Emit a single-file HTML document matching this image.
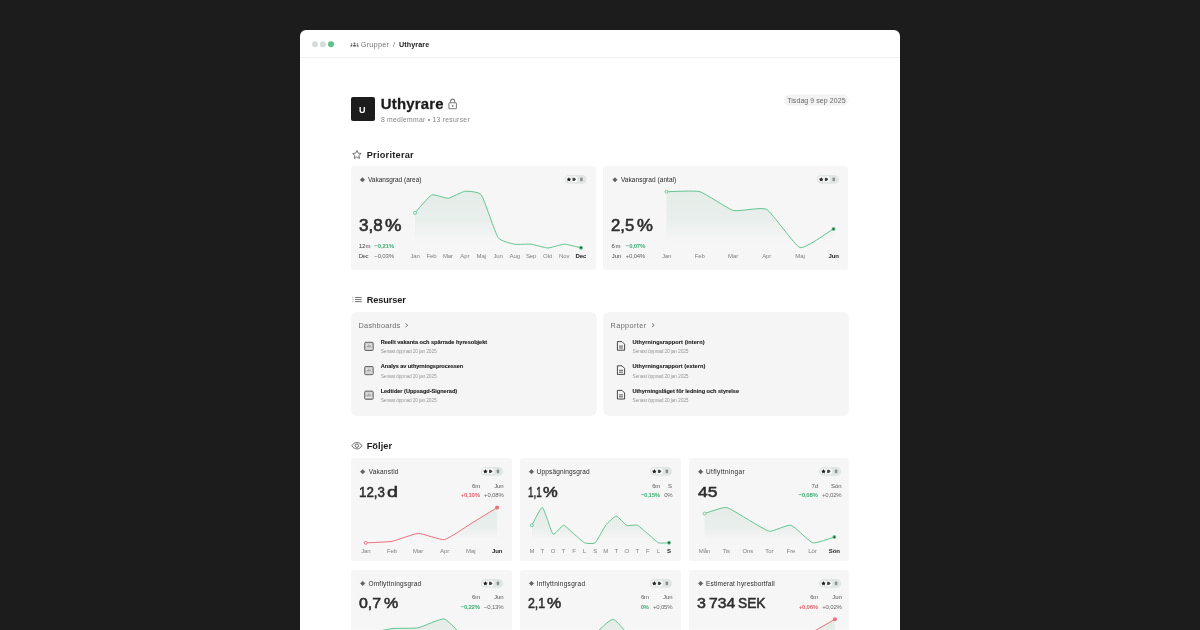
<!DOCTYPE html>
<html lang="sv"><head><meta charset="utf-8"><title>Uthyrare</title>
<style>
html,body{margin:0;padding:0}
body{width:1200px;height:630px;overflow:hidden;background:#1c1c1c;position:relative;font-family:"Liberation Sans",sans-serif}
.win{position:absolute;left:300px;top:29.5px;width:600px;height:640px;background:#fff;border-radius:6px 6px 0 0}
.bar{position:absolute;left:300px;top:57px;width:600px;height:1px;background:#efefef}
.card{position:absolute;border-radius:3px;background-color:#f7f7f7;background-image:radial-gradient(circle at 0.5px 0.5px,#f3f3f3 0.45px,rgba(243,243,243,0) 0.9px);background-size:2px 2px}
.rcard{position:absolute;border-radius:6.5px;background:#f5f5f5}
.txt{position:absolute;left:0;top:0;width:1200px;height:630px;will-change:transform}
.t{position:absolute;white-space:nowrap;line-height:1;transform-origin:0 0}
svg.ov{position:absolute;left:0;top:0}
</style></head><body>
<div class="win"></div><div class="bar"></div>
<div class="card" style="left:351.3px;top:166.3px;width:244.4px;height:103.4px"></div>
<div class="card" style="left:603.3px;top:166.3px;width:244.8px;height:103.4px"></div>
<div class="rcard" style="left:351.2px;top:312.1px;width:245.8px;height:103.9px"></div>
<div class="rcard" style="left:603.0px;top:312.1px;width:246.0px;height:103.9px"></div>
<div class="card" style="left:351.2px;top:458.1px;width:160.6px;height:103.1px"></div>
<div class="card" style="left:520.0px;top:458.1px;width:160.6px;height:103.1px"></div>
<div class="card" style="left:689.3px;top:458.1px;width:159.5px;height:103.1px"></div>
<div class="card" style="left:351.2px;top:570.1px;width:160.6px;height:103.1px"></div>
<div class="card" style="left:520.0px;top:570.1px;width:160.6px;height:103.1px"></div>
<div class="card" style="left:689.3px;top:570.1px;width:159.5px;height:103.1px"></div>
<svg class="ov" width="1200" height="630" viewBox="0 0 1200 630">
<circle cx="315" cy="44.3" r="3" fill="#d6dcd9"/><circle cx="322.9" cy="44.3" r="3" fill="#d6dcd9"/><circle cx="331" cy="44.3" r="3" fill="#5cc389"/>
<g fill="#5a5a5a"><circle cx="354.5" cy="43.35" r="0.95"/><path d="M352.9 46.5 q0 -2.1 1.6 -2.1 q1.6 0 1.6 2.1 z"/><circle cx="351.6" cy="44.0" r="0.7"/><path d="M350.1 46.5 q0 -1.6 1.5 -1.6 q0.5 0 0.9 0.3 q-0.4 0.6 -0.4 1.3 z"/><circle cx="357.4" cy="44.0" r="0.7"/><path d="M358.9 46.5 q0 -1.6 -1.5 -1.6 q-0.5 0 -0.9 0.3 q0.4 0.6 0.4 1.3 z"/></g>
<rect x="351" y="97" width="24" height="24" rx="2" fill="#1c1c1c"/>
<g fill="none" stroke="#7c7c7c" stroke-width="1.05"><rect x="448.9" y="102.8" width="7.5" height="6" rx="1"/><path d="M450.6 102.8 v-1.6 a2.05 2.05 0 0 1 4.1 0 v1.6"/></g><circle cx="452.65" cy="105.9" r="0.9" fill="#7c7c7c"/>
<rect x="784" y="94.4" width="64.8" height="11.3" rx="5.65" fill="#f3f3f3"/>
<polygon points="356.90,150.45 358.14,153.14 361.08,153.49 358.91,155.50 359.49,158.41 356.90,156.96 354.31,158.41 354.89,155.50 352.72,153.49 355.66,153.14" fill="none" stroke="#4a4a4a" stroke-width="0.75" stroke-linejoin="round"/>
<g stroke-width="0.75"><path d="M355 297.45 H361.7 M355 299.55 H361.7 M355 301.65 H361.7" stroke="#444"/><path d="M352.1 297.45 H353.8 M352.1 299.55 H353.8 M352.1 301.65 H353.8" stroke="#aaa"/></g>
<g fill="none" stroke="#444" stroke-width="0.75"><path d="M351.9 445.7 C353.0 443.5 355.0 442.5 356.9 442.5 C358.8 442.5 360.8 443.5 361.9 445.7 C360.8 447.9 358.8 448.9 356.9 448.9 C355.0 448.9 353.0 447.9 351.9 445.7 Z"/><circle cx="356.9" cy="445.7" r="1.75"/></g>
<linearGradient id="g1" gradientUnits="userSpaceOnUse" x1="0" y1="191.3" x2="0" y2="248.0"><stop offset="0" stop-color="#5aa07d" stop-opacity="0.11"/><stop offset="0.5" stop-color="#5aa07d" stop-opacity="0.088"/><stop offset="0.88" stop-color="#5aa07d" stop-opacity="0"/></linearGradient><path d="M415.00 212.80 C417.49 210.13 429.11 196.09 431.60 195.00 C434.09 193.91 445.71 198.58 448.20 198.30 C450.69 198.02 462.31 191.55 464.80 191.30 C467.29 191.05 478.91 191.53 481.40 195.00 C483.89 198.47 495.51 233.81 498.00 237.50 C500.49 241.19 512.11 243.70 514.60 244.20 C517.09 244.70 528.71 243.91 531.20 244.20 C533.69 244.48 545.31 248.00 547.80 248.00 C550.29 248.00 561.91 244.21 564.40 244.20 C566.89 244.19 578.51 247.26 581.00 247.80 L581.00 248.00 L415.00 248.00 Z" fill="url(#g1)"/><path d="M415.00 212.80 C417.49 210.13 429.11 196.09 431.60 195.00 C434.09 193.91 445.71 198.58 448.20 198.30 C450.69 198.02 462.31 191.55 464.80 191.30 C467.29 191.05 478.91 191.53 481.40 195.00 C483.89 198.47 495.51 233.81 498.00 237.50 C500.49 241.19 512.11 243.70 514.60 244.20 C517.09 244.70 528.71 243.91 531.20 244.20 C533.69 244.48 545.31 248.00 547.80 248.00 C550.29 248.00 561.91 244.21 564.40 244.20 C566.89 244.19 578.51 247.26 581.00 247.80" fill="none" stroke="#62c58e" stroke-width="1" stroke-linejoin="round" stroke-linecap="round"/><circle cx="415.00" cy="212.80" r="1.5" fill="#fff" stroke="#62c58e" stroke-width="0.9"/><circle cx="581.00" cy="247.80" r="2" fill="#62c58e"/><circle cx="581.00" cy="247.80" r="0.95" fill="#2b3a33"/>
<linearGradient id="g2" gradientUnits="userSpaceOnUse" x1="0" y1="191.7" x2="0" y2="248.0"><stop offset="0" stop-color="#5aa07d" stop-opacity="0.11"/><stop offset="0.5" stop-color="#5aa07d" stop-opacity="0.088"/><stop offset="0.88" stop-color="#5aa07d" stop-opacity="0"/></linearGradient><path d="M666.50 191.70 C671.51 191.70 694.89 190.29 699.90 191.70 C704.91 193.11 728.29 209.17 733.30 210.50 C738.31 211.83 761.69 206.62 766.70 209.40 C771.71 212.18 795.09 246.14 800.10 247.60 C805.11 249.06 828.49 231.71 833.50 228.90 L833.50 248.00 L666.50 248.00 Z" fill="url(#g2)"/><path d="M666.50 191.70 C671.51 191.70 694.89 190.29 699.90 191.70 C704.91 193.11 728.29 209.17 733.30 210.50 C738.31 211.83 761.69 206.62 766.70 209.40 C771.71 212.18 795.09 246.14 800.10 247.60 C805.11 249.06 828.49 231.71 833.50 228.90" fill="none" stroke="#62c58e" stroke-width="1" stroke-linejoin="round" stroke-linecap="round"/><circle cx="666.50" cy="191.70" r="1.5" fill="#fff" stroke="#62c58e" stroke-width="0.9"/><circle cx="833.50" cy="228.90" r="2" fill="#62c58e"/><circle cx="833.50" cy="228.90" r="0.95" fill="#2b3a33"/>
<rect x="564.40" y="174.95" width="22.2" height="8.8" rx="4.4" fill="#e0e6e3"/>
<circle cx="568.90" cy="179.35" r="3" fill="#fff"/><circle cx="574.30" cy="179.35" r="3" fill="#fff"/>
<polygon points="568.90,177.00 569.63,178.49 571.28,178.73 570.09,179.89 570.37,181.52 568.90,180.75 567.43,181.52 567.71,179.89 566.52,178.73 568.17,178.49" fill="#222"/>
<path d="M572.50 177.75 h2.0 l1.6 1.6 l-1.6 1.6 h-2.0 z" fill="#444"/>
<rect x="580.20" y="177.45" width="2.5" height="3.8" rx="0.8" fill="#8d8d8d"/>
<rect x="816.70" y="174.95" width="22.2" height="8.8" rx="4.4" fill="#e0e6e3"/>
<circle cx="821.20" cy="179.35" r="3" fill="#fff"/><circle cx="826.60" cy="179.35" r="3" fill="#fff"/>
<polygon points="821.20,177.00 821.93,178.49 823.58,178.73 822.39,179.89 822.67,181.52 821.20,180.75 819.73,181.52 820.01,179.89 818.82,178.73 820.47,178.49" fill="#222"/>
<path d="M824.80 177.75 h2.0 l1.6 1.6 l-1.6 1.6 h-2.0 z" fill="#444"/>
<rect x="832.50" y="177.45" width="2.5" height="3.8" rx="0.8" fill="#8d8d8d"/>
<path d="M362.45 177.60 L364.70 179.85 L362.45 182.10 L360.20 179.85 Z" fill="#606060" stroke="#606060" stroke-width="0.5" stroke-linejoin="round"/>
<path d="M614.95 177.60 L617.20 179.85 L614.95 182.10 L612.70 179.85 Z" fill="#606060" stroke="#606060" stroke-width="0.5" stroke-linejoin="round"/>
<linearGradient id="g3" gradientUnits="userSpaceOnUse" x1="0" y1="507.6" x2="0" y2="544.0"><stop offset="0" stop-color="#5aa07d" stop-opacity="0.11"/><stop offset="0.5" stop-color="#5aa07d" stop-opacity="0.088"/><stop offset="0.88" stop-color="#5aa07d" stop-opacity="0"/></linearGradient><path d="M365.80 542.90 C369.74 542.66 388.12 542.01 392.06 541.30 C396.00 540.59 414.38 533.53 418.32 533.40 C422.26 533.27 440.64 540.33 444.58 539.60 C448.52 538.87 466.90 526.10 470.84 523.70 C474.78 521.30 493.16 510.02 497.10 507.60 L497.10 544.00 L365.80 544.00 Z" fill="url(#g3)"/><path d="M365.80 542.90 C369.74 542.66 388.12 542.01 392.06 541.30 C396.00 540.59 414.38 533.53 418.32 533.40 C422.26 533.27 440.64 540.33 444.58 539.60 C448.52 538.87 466.90 526.10 470.84 523.70 C474.78 521.30 493.16 510.02 497.10 507.60" fill="none" stroke="#e8707a" stroke-width="1" stroke-linejoin="round" stroke-linecap="round"/><circle cx="365.80" cy="542.90" r="1.5" fill="#fff" stroke="#e8707a" stroke-width="0.9"/><circle cx="497.10" cy="507.60" r="2" fill="#e8707a"/>
<linearGradient id="g4" gradientUnits="userSpaceOnUse" x1="0" y1="507.4" x2="0" y2="545.0"><stop offset="0" stop-color="#5aa07d" stop-opacity="0.11"/><stop offset="0.5" stop-color="#5aa07d" stop-opacity="0.088"/><stop offset="0.88" stop-color="#5aa07d" stop-opacity="0"/></linearGradient><path d="M531.90 525.20 C533.48 522.53 540.86 506.73 542.45 507.40 C544.03 508.07 551.41 532.76 552.99 534.10 C554.57 535.44 561.96 525.20 563.54 525.20 C565.12 525.20 572.50 532.78 574.08 534.10 C575.67 535.42 583.05 542.15 584.63 542.80 C586.21 543.45 593.59 544.12 595.18 542.80 C596.76 541.48 604.14 527.20 605.72 525.20 C607.30 523.20 614.69 516.09 616.27 516.10 C617.85 516.12 625.23 524.72 626.81 525.40 C628.40 526.08 635.78 524.56 637.36 525.20 C638.94 525.84 646.32 532.58 647.91 533.90 C649.49 535.22 656.87 542.13 658.45 542.80 C660.03 543.47 667.42 542.80 669.00 542.80 L669.00 545.00 L531.90 545.00 Z" fill="url(#g4)"/><path d="M531.90 525.20 C533.48 522.53 540.86 506.73 542.45 507.40 C544.03 508.07 551.41 532.76 552.99 534.10 C554.57 535.44 561.96 525.20 563.54 525.20 C565.12 525.20 572.50 532.78 574.08 534.10 C575.67 535.42 583.05 542.15 584.63 542.80 C586.21 543.45 593.59 544.12 595.18 542.80 C596.76 541.48 604.14 527.20 605.72 525.20 C607.30 523.20 614.69 516.09 616.27 516.10 C617.85 516.12 625.23 524.72 626.81 525.40 C628.40 526.08 635.78 524.56 637.36 525.20 C638.94 525.84 646.32 532.58 647.91 533.90 C649.49 535.22 656.87 542.13 658.45 542.80 C660.03 543.47 667.42 542.80 669.00 542.80" fill="none" stroke="#62c58e" stroke-width="1" stroke-linejoin="round" stroke-linecap="round"/><circle cx="531.90" cy="525.20" r="1.5" fill="#fff" stroke="#62c58e" stroke-width="0.9"/><circle cx="669.00" cy="542.80" r="2" fill="#62c58e"/><circle cx="669.00" cy="542.80" r="0.95" fill="#2b3a33"/>
<linearGradient id="g5" gradientUnits="userSpaceOnUse" x1="0" y1="507.4" x2="0" y2="545.0"><stop offset="0" stop-color="#5aa07d" stop-opacity="0.11"/><stop offset="0.5" stop-color="#5aa07d" stop-opacity="0.088"/><stop offset="0.88" stop-color="#5aa07d" stop-opacity="0"/></linearGradient><path d="M704.60 513.50 C707.84 512.59 722.98 506.96 726.22 507.40 C729.46 507.84 744.60 517.61 747.84 519.40 C751.08 521.19 766.22 530.86 769.46 531.30 C772.70 531.74 787.84 524.34 791.08 525.20 C794.32 526.06 809.46 541.91 812.70 542.80 C815.94 543.69 831.08 537.96 834.32 537.10 L834.32 545.00 L704.60 545.00 Z" fill="url(#g5)"/><path d="M704.60 513.50 C707.84 512.59 722.98 506.96 726.22 507.40 C729.46 507.84 744.60 517.61 747.84 519.40 C751.08 521.19 766.22 530.86 769.46 531.30 C772.70 531.74 787.84 524.34 791.08 525.20 C794.32 526.06 809.46 541.91 812.70 542.80 C815.94 543.69 831.08 537.96 834.32 537.10" fill="none" stroke="#62c58e" stroke-width="1" stroke-linejoin="round" stroke-linecap="round"/><circle cx="704.60" cy="513.50" r="1.5" fill="#fff" stroke="#62c58e" stroke-width="0.9"/><circle cx="834.32" cy="537.10" r="2" fill="#62c58e"/><circle cx="834.32" cy="537.10" r="0.95" fill="#2b3a33"/>
<rect x="480.90" y="466.95" width="22.2" height="8.8" rx="4.4" fill="#e0e6e3"/>
<circle cx="485.40" cy="471.35" r="3" fill="#fff"/><circle cx="490.80" cy="471.35" r="3" fill="#fff"/>
<polygon points="485.40,469.00 486.13,470.49 487.78,470.73 486.59,471.89 486.87,473.52 485.40,472.75 483.93,473.52 484.21,471.89 483.02,470.73 484.67,470.49" fill="#222"/>
<path d="M489.00 469.75 h2.0 l1.6 1.6 l-1.6 1.6 h-2.0 z" fill="#444"/>
<rect x="496.70" y="469.45" width="2.5" height="3.8" rx="0.8" fill="#8d8d8d"/>
<rect x="480.90" y="579.00" width="22.2" height="8.8" rx="4.4" fill="#e0e6e3"/>
<circle cx="485.40" cy="583.40" r="3" fill="#fff"/><circle cx="490.80" cy="583.40" r="3" fill="#fff"/>
<polygon points="485.40,581.05 486.13,582.54 487.78,582.78 486.59,583.94 486.87,585.57 485.40,584.80 483.93,585.57 484.21,583.94 483.02,582.78 484.67,582.54" fill="#222"/>
<path d="M489.00 581.80 h2.0 l1.6 1.6 l-1.6 1.6 h-2.0 z" fill="#444"/>
<rect x="496.70" y="581.50" width="2.5" height="3.8" rx="0.8" fill="#8d8d8d"/>
<rect x="649.80" y="466.95" width="22.2" height="8.8" rx="4.4" fill="#e0e6e3"/>
<circle cx="654.30" cy="471.35" r="3" fill="#fff"/><circle cx="659.70" cy="471.35" r="3" fill="#fff"/>
<polygon points="654.30,469.00 655.03,470.49 656.68,470.73 655.49,471.89 655.77,473.52 654.30,472.75 652.83,473.52 653.11,471.89 651.92,470.73 653.57,470.49" fill="#222"/>
<path d="M657.90 469.75 h2.0 l1.6 1.6 l-1.6 1.6 h-2.0 z" fill="#444"/>
<rect x="665.60" y="469.45" width="2.5" height="3.8" rx="0.8" fill="#8d8d8d"/>
<rect x="649.80" y="579.00" width="22.2" height="8.8" rx="4.4" fill="#e0e6e3"/>
<circle cx="654.30" cy="583.40" r="3" fill="#fff"/><circle cx="659.70" cy="583.40" r="3" fill="#fff"/>
<polygon points="654.30,581.05 655.03,582.54 656.68,582.78 655.49,583.94 655.77,585.57 654.30,584.80 652.83,585.57 653.11,583.94 651.92,582.78 653.57,582.54" fill="#222"/>
<path d="M657.90 581.80 h2.0 l1.6 1.6 l-1.6 1.6 h-2.0 z" fill="#444"/>
<rect x="665.60" y="581.50" width="2.5" height="3.8" rx="0.8" fill="#8d8d8d"/>
<rect x="819.00" y="466.95" width="22.2" height="8.8" rx="4.4" fill="#e0e6e3"/>
<circle cx="823.50" cy="471.35" r="3" fill="#fff"/><circle cx="828.90" cy="471.35" r="3" fill="#fff"/>
<polygon points="823.50,469.00 824.23,470.49 825.88,470.73 824.69,471.89 824.97,473.52 823.50,472.75 822.03,473.52 822.31,471.89 821.12,470.73 822.77,470.49" fill="#222"/>
<path d="M827.10 469.75 h2.0 l1.6 1.6 l-1.6 1.6 h-2.0 z" fill="#444"/>
<rect x="834.80" y="469.45" width="2.5" height="3.8" rx="0.8" fill="#8d8d8d"/>
<rect x="819.00" y="579.00" width="22.2" height="8.8" rx="4.4" fill="#e0e6e3"/>
<circle cx="823.50" cy="583.40" r="3" fill="#fff"/><circle cx="828.90" cy="583.40" r="3" fill="#fff"/>
<polygon points="823.50,581.05 824.23,582.54 825.88,582.78 824.69,583.94 824.97,585.57 823.50,584.80 822.03,585.57 822.31,583.94 821.12,582.78 822.77,582.54" fill="#222"/>
<path d="M827.10 581.80 h2.0 l1.6 1.6 l-1.6 1.6 h-2.0 z" fill="#444"/>
<rect x="834.80" y="581.50" width="2.5" height="3.8" rx="0.8" fill="#8d8d8d"/>
<path d="M362.70 469.45 L364.95 471.70 L362.70 473.95 L360.45 471.70 Z" fill="#606060" stroke="#606060" stroke-width="0.5" stroke-linejoin="round"/>
<path d="M362.70 581.15 L364.95 583.40 L362.70 585.65 L360.45 583.40 Z" fill="#606060" stroke="#606060" stroke-width="0.5" stroke-linejoin="round"/>
<path d="M531.50 469.45 L533.75 471.70 L531.50 473.95 L529.25 471.70 Z" fill="#606060" stroke="#606060" stroke-width="0.5" stroke-linejoin="round"/>
<path d="M531.50 581.15 L533.75 583.40 L531.50 585.65 L529.25 583.40 Z" fill="#606060" stroke="#606060" stroke-width="0.5" stroke-linejoin="round"/>
<path d="M700.60 469.45 L702.85 471.70 L700.60 473.95 L698.35 471.70 Z" fill="#606060" stroke="#606060" stroke-width="0.5" stroke-linejoin="round"/>
<path d="M700.60 581.15 L702.85 583.40 L700.60 585.65 L698.35 583.40 Z" fill="#606060" stroke="#606060" stroke-width="0.5" stroke-linejoin="round"/>
<linearGradient id="g6" gradientUnits="userSpaceOnUse" x1="0" y1="619.1" x2="0" y2="650.0"><stop offset="0" stop-color="#5aa07d" stop-opacity="0.11"/><stop offset="0.5" stop-color="#5aa07d" stop-opacity="0.088"/><stop offset="0.88" stop-color="#5aa07d" stop-opacity="0"/></linearGradient><path d="M365.80 634.00 C369.73 633.19 388.06 629.07 392.00 628.60 C395.94 628.13 414.35 628.51 418.30 627.80 C422.25 627.09 440.77 617.84 444.70 619.10 C448.63 620.36 466.80 640.77 470.70 644.60 L470.70 650.00 L365.80 650.00 Z" fill="url(#g6)"/><path d="M365.80 634.00 C369.73 633.19 388.06 629.07 392.00 628.60 C395.94 628.13 414.35 628.51 418.30 627.80 C422.25 627.09 440.77 617.84 444.70 619.10 C448.63 620.36 466.80 640.77 470.70 644.60" fill="none" stroke="#62c58e" stroke-width="1" stroke-linejoin="round" stroke-linecap="round"/>
<linearGradient id="g7" gradientUnits="userSpaceOnUse" x1="0" y1="619.3" x2="0" y2="655.0"><stop offset="0" stop-color="#5aa07d" stop-opacity="0.11"/><stop offset="0.5" stop-color="#5aa07d" stop-opacity="0.088"/><stop offset="0.88" stop-color="#5aa07d" stop-opacity="0"/></linearGradient><path d="M586.80 642.00 C590.77 638.60 609.36 618.77 613.30 619.30 C617.24 619.82 635.40 644.54 639.30 649.00 L639.30 655.00 L586.80 655.00 Z" fill="url(#g7)"/><path d="M586.80 642.00 C590.77 638.60 609.36 618.77 613.30 619.30 C617.24 619.82 635.40 644.54 639.30 649.00" fill="none" stroke="#62c58e" stroke-width="1" stroke-linejoin="round" stroke-linecap="round"/>
<linearGradient id="g8" gradientUnits="userSpaceOnUse" x1="0" y1="619.3" x2="0" y2="655.0"><stop offset="0" stop-color="#5aa07d" stop-opacity="0.11"/><stop offset="0.5" stop-color="#5aa07d" stop-opacity="0.088"/><stop offset="0.88" stop-color="#5aa07d" stop-opacity="0"/></linearGradient><path d="M808.60 634.40 L834.90 619.30 L834.90 655.00 L808.60 655.00 Z" fill="url(#g8)"/><path d="M808.60 634.40 C812.55 632.13 830.95 621.56 834.90 619.30" fill="none" stroke="#e8707a" stroke-width="1" stroke-linejoin="round" stroke-linecap="round"/><circle cx="834.90" cy="619.30" r="2" fill="#e8707a"/>
<g><rect x="364.70" y="342.30" width="8.5" height="8.2" rx="1.1" fill="#c2c2c2" stroke="#666" stroke-width="1"/><rect x="365.80" y="343.50" width="6.3" height="3.9" fill="#dedede"/><path d="M367.40 347.20 v-1.3 M368.80 347.20 v-2.6 M370.20 347.20 v-1.9" stroke="#8c8c8c" stroke-width="0.9"/><path d="M365.40 348.70 h7.1" stroke="#f2f2f2" stroke-width="0.8"/></g>
<g fill="none" stroke="#333" stroke-width="0.9" stroke-linejoin="round"><path d="M617.40 341.60 h4.6 l2.6 2.6 v6 h-7.2 z"/><path d="M619.00 346.10 h4 M619.00 348.00 h4" stroke-width="0.8"/></g>
<g><rect x="364.70" y="366.50" width="8.5" height="8.2" rx="1.1" fill="#c2c2c2" stroke="#666" stroke-width="1"/><rect x="365.80" y="367.70" width="6.3" height="3.9" fill="#dedede"/><path d="M367.40 371.40 v-1.3 M368.80 371.40 v-2.6 M370.20 371.40 v-1.9" stroke="#8c8c8c" stroke-width="0.9"/><path d="M365.40 372.90 h7.1" stroke="#f2f2f2" stroke-width="0.8"/></g>
<g fill="none" stroke="#333" stroke-width="0.9" stroke-linejoin="round"><path d="M617.40 365.80 h4.6 l2.6 2.6 v6 h-7.2 z"/><path d="M619.00 370.30 h4 M619.00 372.20 h4" stroke-width="0.8"/></g>
<g><rect x="364.70" y="391.10" width="8.5" height="8.2" rx="1.1" fill="#c2c2c2" stroke="#666" stroke-width="1"/><rect x="365.80" y="392.30" width="6.3" height="3.9" fill="#dedede"/><path d="M367.40 396.00 v-1.3 M368.80 396.00 v-2.6 M370.20 396.00 v-1.9" stroke="#8c8c8c" stroke-width="0.9"/><path d="M365.40 397.50 h7.1" stroke="#f2f2f2" stroke-width="0.8"/></g>
<g fill="none" stroke="#333" stroke-width="0.9" stroke-linejoin="round"><path d="M617.40 390.40 h4.6 l2.6 2.6 v6 h-7.2 z"/><path d="M619.00 394.90 h4 M619.00 396.80 h4" stroke-width="0.8"/></g>
<g fill="none" stroke="#666" stroke-width="0.9"><path d="M405.5 323.5 l2.2 1.8 l-2.2 1.8"/><path d="M652.0 323.5 l2.2 1.8 l-2.2 1.8"/></g>
</svg>
<div class="txt">
<span class="t" style="left:360.73px;top:41px;font-size:7.4px;color:#777;letter-spacing:0.193px;">Grupper</span>
<span class="t" style="left:393.00px;top:41px;font-size:7.2px;color:#777;">/</span>
<span class="t" style="left:398.97px;top:41px;font-size:7.2px;color:#222;font-weight:700;letter-spacing:0.099px;">Uthyrare</span>
<span class="t" style="left:359.46px;top:106px;font-size:9.3px;color:#fff;font-weight:700;transform:scaleX(0.9677);">U</span>
<span class="t" style="left:380.71px;top:97px;font-size:14.9px;color:#1c1c1c;font-weight:700;letter-spacing:0.239px;-webkit-text-stroke:0.3px #1c1c1c;">Uthyrare</span>
<span class="t" style="left:380.89px;top:117px;font-size:6.8px;color:#858585;letter-spacing:0.279px;">8 medlemmar • 13 resurser</span>
<span class="t" style="left:787.16px;top:97px;font-size:7px;color:#666;letter-spacing:0.068px;">Tisdag 9 sep 2025</span>
<span class="t" style="left:366.70px;top:151px;font-size:9.2px;color:#1c1c1c;font-weight:700;letter-spacing:0.255px;">Prioriterar</span>
<span class="t" style="left:366.80px;top:296px;font-size:9.2px;color:#1c1c1c;font-weight:700;letter-spacing:-0.121px;">Resurser</span>
<span class="t" style="left:366.70px;top:442px;font-size:9.2px;color:#1c1c1c;font-weight:700;letter-spacing:0.073px;">Följer</span>
<span class="t" style="left:367.97px;top:177px;font-size:6.5px;color:#2a2a2a;letter-spacing:0.006px;">Vakansgrad (area)</span>
<span class="t" style="left:620.97px;top:177px;font-size:6.5px;color:#2a2a2a;letter-spacing:0.048px;">Vakansgrad (antal)</span>
<span class="t" style="left:358.52px;top:218px;font-size:16.6px;color:#2e2e2e;transform:scaleX(1.0255);-webkit-text-stroke:0.6px #2e2e2e;">3,8</span>
<span class="t" style="left:384.85px;top:218px;font-size:16.6px;color:#2e2e2e;transform:scaleX(1.1167);-webkit-text-stroke:0.6px #2e2e2e;">%</span>
<span class="t" style="left:611.07px;top:218px;font-size:16.6px;color:#2e2e2e;transform:scaleX(1.0056);-webkit-text-stroke:0.6px #2e2e2e;">2,5</span>
<span class="t" style="left:636.67px;top:218px;font-size:16.6px;color:#2e2e2e;transform:scaleX(1.0799);-webkit-text-stroke:0.6px #2e2e2e;">%</span>
<span class="t" style="left:358.85px;top:243px;font-size:6.0px;color:#444;letter-spacing:-0.065px;">12m</span>
<span class="t" style="left:374.36px;top:243px;font-size:6.0px;color:#3fae75;font-weight:700;letter-spacing:-0.146px;">−0,21%</span>
<span class="t" style="left:358.72px;top:253px;font-size:6.0px;color:#444;letter-spacing:-0.475px;">Dec</span>
<span class="t" style="left:374.30px;top:253px;font-size:6.0px;color:#666;letter-spacing:-0.162px;">−0,03%</span>
<span class="t" style="left:611.60px;top:243px;font-size:6.0px;color:#444;letter-spacing:0.450px;">6m</span>
<span class="t" style="left:625.86px;top:243px;font-size:6.0px;color:#3fae75;font-weight:700;letter-spacing:-0.226px;">−0,07%</span>
<span class="t" style="left:611.81px;top:253px;font-size:6.0px;color:#444;letter-spacing:-0.140px;">Jun</span>
<span class="t" style="left:625.80px;top:253px;font-size:6.0px;color:#666;letter-spacing:-0.222px;">+0,04%</span>
<span class="t" style="left:410.41px;top:253px;font-size:6.0px;color:#808080;letter-spacing:-0.092px;">Jan</span>
<span class="t" style="left:426.42px;top:253px;font-size:6.0px;color:#808080;letter-spacing:-0.096px;">Feb</span>
<span class="t" style="left:442.94px;top:253px;font-size:6.0px;color:#808080;letter-spacing:-0.098px;">Mar</span>
<span class="t" style="left:460.27px;top:253px;font-size:6.0px;color:#808080;letter-spacing:-0.092px;">Apr</span>
<span class="t" style="left:476.61px;top:253px;font-size:6.0px;color:#808080;letter-spacing:-0.088px;">Maj</span>
<span class="t" style="left:493.41px;top:253px;font-size:6.0px;color:#808080;letter-spacing:-0.092px;">Jun</span>
<span class="t" style="left:509.56px;top:253px;font-size:6.0px;color:#808080;letter-spacing:-0.103px;">Aug</span>
<span class="t" style="left:525.95px;top:253px;font-size:6.0px;color:#808080;letter-spacing:-0.102px;">Sep</span>
<span class="t" style="left:543.11px;top:253px;font-size:6.0px;color:#808080;letter-spacing:-0.090px;">Okt</span>
<span class="t" style="left:558.94px;top:253px;font-size:6.0px;color:#808080;letter-spacing:-0.102px;">Nov</span>
<span class="t" style="left:575.49px;top:253px;font-size:6.0px;color:#222;font-weight:700;letter-spacing:-0.104px;">Dec</span>
<span class="t" style="left:661.91px;top:253px;font-size:6.0px;color:#808080;letter-spacing:-0.092px;">Jan</span>
<span class="t" style="left:694.72px;top:253px;font-size:6.0px;color:#808080;letter-spacing:-0.096px;">Feb</span>
<span class="t" style="left:728.04px;top:253px;font-size:6.0px;color:#808080;letter-spacing:-0.098px;">Mar</span>
<span class="t" style="left:762.17px;top:253px;font-size:6.0px;color:#808080;letter-spacing:-0.092px;">Apr</span>
<span class="t" style="left:795.31px;top:253px;font-size:6.0px;color:#808080;letter-spacing:-0.088px;">Maj</span>
<span class="t" style="left:828.41px;top:253px;font-size:6.0px;color:#222;font-weight:700;letter-spacing:-0.102px;">Jun</span>
<span class="t" style="left:358.62px;top:322px;font-size:7.3px;color:#6c6c6c;letter-spacing:0.244px;">Dashboards</span>
<span class="t" style="left:610.52px;top:322px;font-size:7.3px;color:#6c6c6c;letter-spacing:0.393px;">Rapporter</span>
<span class="t" style="left:380.64px;top:340px;font-size:5.6px;color:#1c1c1c;font-weight:700;letter-spacing:-0.019px;-webkit-text-stroke:0.12px #1c1c1c;">Reellt vakanta och spärrade hyresobjekt</span>
<span class="t" style="left:380.78px;top:350px;font-size:4.9px;color:#989898;letter-spacing:-0.163px;">Senast öppnad 20 jan 2025</span>
<span class="t" style="left:632.46px;top:340px;font-size:5.6px;color:#1c1c1c;font-weight:700;letter-spacing:0.085px;-webkit-text-stroke:0.12px #1c1c1c;">Uthyrningsrapport (intern)</span>
<span class="t" style="left:632.58px;top:350px;font-size:4.9px;color:#989898;letter-spacing:-0.163px;">Senast öppnad 20 jan 2025</span>
<span class="t" style="left:380.86px;top:364px;font-size:5.6px;color:#1c1c1c;font-weight:700;letter-spacing:-0.077px;-webkit-text-stroke:0.12px #1c1c1c;">Analys av uthyrningsprocessen</span>
<span class="t" style="left:380.78px;top:375px;font-size:4.9px;color:#989898;letter-spacing:-0.163px;">Senast öppnad 20 jan 2025</span>
<span class="t" style="left:632.46px;top:364px;font-size:5.6px;color:#1c1c1c;font-weight:700;letter-spacing:0.070px;-webkit-text-stroke:0.12px #1c1c1c;">Uthyrningsrapport (extern)</span>
<span class="t" style="left:632.58px;top:375px;font-size:4.9px;color:#989898;letter-spacing:-0.163px;">Senast öppnad 20 jan 2025</span>
<span class="t" style="left:380.64px;top:389px;font-size:5.6px;color:#1c1c1c;font-weight:700;letter-spacing:-0.020px;-webkit-text-stroke:0.12px #1c1c1c;">Ledtider (Uppsagd-Signerad)</span>
<span class="t" style="left:380.78px;top:399px;font-size:4.9px;color:#989898;letter-spacing:-0.163px;">Senast öppnad 20 jan 2025</span>
<span class="t" style="left:632.46px;top:389px;font-size:5.6px;color:#1c1c1c;font-weight:700;letter-spacing:-0.016px;-webkit-text-stroke:0.12px #1c1c1c;">Uthyrningsläget för ledning och styrelse</span>
<span class="t" style="left:632.58px;top:399px;font-size:4.9px;color:#989898;letter-spacing:-0.163px;">Senast öppnad 20 jan 2025</span>
<span class="t" style="left:368.67px;top:469px;font-size:6.5px;color:#2a2a2a;letter-spacing:0.213px;">Vakanstid</span>
<span class="t" style="left:358.90px;top:485px;font-size:14.8px;color:#2e2e2e;transform:scaleX(0.8972);-webkit-text-stroke:0.55px #2e2e2e;">12,3</span>
<span class="t" style="left:386.91px;top:485px;font-size:14.8px;color:#2e2e2e;transform:scaleX(1.3363);-webkit-text-stroke:0.55px #2e2e2e;">d</span>
<span class="t" style="left:494.21px;top:483px;font-size:6.0px;color:#555;letter-spacing:-0.092px;">Jun</span>
<span class="t" style="left:472.05px;top:483px;font-size:6.0px;color:#555;letter-spacing:-0.153px;">6m</span>
<span class="t" style="left:484.09px;top:492px;font-size:6.0px;color:#666;letter-spacing:-0.160px;">+0,08%</span>
<span class="t" style="left:460.69px;top:492px;font-size:6.0px;color:#e26670;font-weight:700;letter-spacing:-0.242px;">+0,10%</span>
<span class="t" style="left:536.71px;top:469px;font-size:6.5px;color:#2a2a2a;letter-spacing:0.139px;">Uppsägningsgrad</span>
<span class="t" style="left:527.86px;top:485px;font-size:14.8px;color:#2e2e2e;transform:scaleX(0.6704);-webkit-text-stroke:0.55px #2e2e2e;">1,1</span>
<span class="t" style="left:543.22px;top:485px;font-size:14.8px;color:#2e2e2e;transform:scaleX(1.1206);-webkit-text-stroke:0.55px #2e2e2e;">%</span>
<span class="t" style="left:668.35px;top:483px;font-size:6.0px;color:#555;transform:scaleX(0.9800);">S</span>
<span class="t" style="left:652.20px;top:483px;font-size:6.0px;color:#555;letter-spacing:-0.153px;">6m</span>
<span class="t" style="left:664.17px;top:492px;font-size:6.0px;color:#666;letter-spacing:-0.329px;">0%</span>
<span class="t" style="left:640.84px;top:492px;font-size:6.0px;color:#3fae75;font-weight:700;letter-spacing:-0.242px;">−0,15%</span>
<span class="t" style="left:706.01px;top:469px;font-size:6.5px;color:#2a2a2a;letter-spacing:0.326px;">Utflyttningar</span>
<span class="t" style="left:697.75px;top:485px;font-size:14.8px;color:#2e2e2e;transform:scaleX(1.1776);-webkit-text-stroke:0.55px #2e2e2e;">45</span>
<span class="t" style="left:831.11px;top:483px;font-size:6.0px;color:#555;letter-spacing:-0.100px;">Sön</span>
<span class="t" style="left:811.55px;top:483px;font-size:6.0px;color:#555;letter-spacing:-0.119px;">7d</span>
<span class="t" style="left:821.99px;top:492px;font-size:6.0px;color:#666;letter-spacing:-0.160px;">+0,02%</span>
<span class="t" style="left:798.54px;top:492px;font-size:6.0px;color:#3fae75;font-weight:700;letter-spacing:-0.242px;">−0,08%</span>
<span class="t" style="left:368.41px;top:581px;font-size:6.5px;color:#2a2a2a;letter-spacing:0.238px;">Omflyttningsgrad</span>
<span class="t" style="left:359.36px;top:596px;font-size:14.8px;color:#2e2e2e;transform:scaleX(1.0759);-webkit-text-stroke:0.55px #2e2e2e;">0,7</span>
<span class="t" style="left:383.84px;top:596px;font-size:14.8px;color:#2e2e2e;transform:scaleX(1.0794);-webkit-text-stroke:0.55px #2e2e2e;">%</span>
<span class="t" style="left:494.01px;top:594px;font-size:6.0px;color:#555;letter-spacing:-0.092px;">Jun</span>
<span class="t" style="left:472.10px;top:594px;font-size:6.0px;color:#555;letter-spacing:-0.153px;">6m</span>
<span class="t" style="left:483.89px;top:604px;font-size:6.0px;color:#666;letter-spacing:-0.160px;">−0,13%</span>
<span class="t" style="left:460.74px;top:604px;font-size:6.0px;color:#3fae75;font-weight:700;letter-spacing:-0.242px;">−0,22%</span>
<span class="t" style="left:536.62px;top:581px;font-size:6.5px;color:#2a2a2a;letter-spacing:0.289px;">Inflyttningsgrad</span>
<span class="t" style="left:528.28px;top:596px;font-size:14.8px;color:#2e2e2e;transform:scaleX(0.8348);-webkit-text-stroke:0.55px #2e2e2e;">2,1</span>
<span class="t" style="left:547.24px;top:596px;font-size:14.8px;color:#2e2e2e;transform:scaleX(1.0794);-webkit-text-stroke:0.55px #2e2e2e;">%</span>
<span class="t" style="left:663.01px;top:594px;font-size:6.0px;color:#555;letter-spacing:-0.092px;">Jun</span>
<span class="t" style="left:640.90px;top:594px;font-size:6.0px;color:#555;letter-spacing:-0.153px;">6m</span>
<span class="t" style="left:652.89px;top:604px;font-size:6.0px;color:#666;letter-spacing:-0.160px;">+0,05%</span>
<span class="t" style="left:640.68px;top:604px;font-size:6.0px;color:#3fae75;font-weight:700;letter-spacing:-0.497px;">0%</span>
<span class="t" style="left:705.98px;top:581px;font-size:6.5px;color:#2a2a2a;letter-spacing:0.186px;">Estimerat hyresbortfall</span>
<span class="t" style="left:697.16px;top:596px;font-size:14.8px;color:#2e2e2e;transform:scaleX(1.0811);-webkit-text-stroke:0.55px #2e2e2e;">3</span>
<span class="t" style="left:709.02px;top:596px;font-size:14.8px;color:#2e2e2e;transform:scaleX(1.0572);-webkit-text-stroke:0.55px #2e2e2e;">734</span>
<span class="t" style="left:737.58px;top:596px;font-size:14.8px;color:#2e2e2e;transform:scaleX(0.9275);-webkit-text-stroke:0.55px #2e2e2e;">SEK</span>
<span class="t" style="left:832.31px;top:594px;font-size:6.0px;color:#555;letter-spacing:-0.092px;">Jun</span>
<span class="t" style="left:810.20px;top:594px;font-size:6.0px;color:#555;letter-spacing:-0.153px;">6m</span>
<span class="t" style="left:822.19px;top:604px;font-size:6.0px;color:#666;letter-spacing:-0.160px;">+0,02%</span>
<span class="t" style="left:798.84px;top:604px;font-size:6.0px;color:#e26670;font-weight:700;letter-spacing:-0.242px;">+0,06%</span>
<span class="t" style="left:361.21px;top:548px;font-size:6.0px;color:#808080;letter-spacing:-0.092px;">Jan</span>
<span class="t" style="left:386.88px;top:548px;font-size:6.0px;color:#808080;letter-spacing:-0.096px;">Feb</span>
<span class="t" style="left:413.06px;top:548px;font-size:6.0px;color:#808080;letter-spacing:-0.098px;">Mar</span>
<span class="t" style="left:440.05px;top:548px;font-size:6.0px;color:#808080;letter-spacing:-0.092px;">Apr</span>
<span class="t" style="left:466.05px;top:548px;font-size:6.0px;color:#808080;letter-spacing:-0.088px;">Maj</span>
<span class="t" style="left:492.01px;top:548px;font-size:6.0px;color:#222;font-weight:700;letter-spacing:-0.102px;">Jun</span>
<span class="t" style="left:529.41px;top:548px;font-size:6.0px;color:#808080;">M</span>
<span class="t" style="left:540.62px;top:548px;font-size:6.0px;color:#808080;">T</span>
<span class="t" style="left:550.67px;top:548px;font-size:6.0px;color:#808080;">O</span>
<span class="t" style="left:561.71px;top:548px;font-size:6.0px;color:#808080;">T</span>
<span class="t" style="left:572.13px;top:548px;font-size:6.0px;color:#808080;">F</span>
<span class="t" style="left:582.81px;top:548px;font-size:6.0px;color:#808080;">L</span>
<span class="t" style="left:593.18px;top:548px;font-size:6.0px;color:#808080;">S</span>
<span class="t" style="left:603.23px;top:548px;font-size:6.0px;color:#808080;">M</span>
<span class="t" style="left:614.44px;top:548px;font-size:6.0px;color:#808080;">T</span>
<span class="t" style="left:624.49px;top:548px;font-size:6.0px;color:#808080;">O</span>
<span class="t" style="left:635.53px;top:548px;font-size:6.0px;color:#808080;">T</span>
<span class="t" style="left:645.96px;top:548px;font-size:6.0px;color:#808080;">F</span>
<span class="t" style="left:656.64px;top:548px;font-size:6.0px;color:#808080;">L</span>
<span class="t" style="left:667.02px;top:548px;font-size:6.0px;color:#222;font-weight:700;">S</span>
<span class="t" style="left:698.83px;top:548px;font-size:6.0px;color:#808080;letter-spacing:-0.108px;">Mån</span>
<span class="t" style="left:722.45px;top:548px;font-size:6.0px;color:#808080;letter-spacing:-0.074px;">Tis</span>
<span class="t" style="left:742.41px;top:548px;font-size:6.0px;color:#808080;letter-spacing:-0.105px;">Ons</span>
<span class="t" style="left:765.37px;top:548px;font-size:6.0px;color:#808080;letter-spacing:-0.081px;">Tor</span>
<span class="t" style="left:786.56px;top:548px;font-size:6.0px;color:#808080;letter-spacing:-0.083px;">Fre</span>
<span class="t" style="left:808.27px;top:548px;font-size:6.0px;color:#808080;letter-spacing:-0.081px;">Lör</span>
<span class="t" style="left:828.85px;top:548px;font-size:6.0px;color:#222;font-weight:700;letter-spacing:-0.108px;">Sön</span>
</div>
</body></html>
